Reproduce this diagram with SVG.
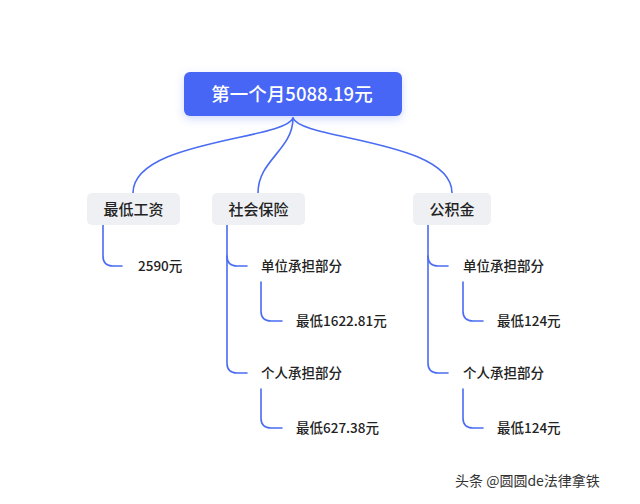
<svg xmlns="http://www.w3.org/2000/svg" width="640" height="504" viewBox="0 0 640 504">
<defs>
<filter id="sh" x="-20%" y="-30%" width="140%" height="170%"><feDropShadow dx="0" dy="3" stdDeviation="4" flood-color="#4766f5" flood-opacity="0.25"/></filter>
</defs>
<style>
text{font-family:"Noto Sans CJK SC","Liberation Sans",sans-serif;}
.ln{fill:none;stroke:#4a6cf2;stroke-width:1.6;stroke-linecap:round}
.l1 rect{fill:#eef0f3}
.l1 text{font-size:15px;fill:#222;text-anchor:middle;font-weight:500}
.l2{font-size:13.5px;fill:#222;font-weight:500}
</style>
<rect width="640" height="504" fill="#ffffff"/>
<g id="connectors">
<path class="ln" d="M293,118 C285,140 133,140 133,193"/>
<path class="ln" d="M293,118 C293,150 258,160 258,193"/>
<path class="ln" d="M293,118 C301,140 452,140 452,193"/>
<path class="ln" d="M103,225 V256 Q103,266 113,266 H122"/>
<path class="ln" d="M227,225 V256 Q227,266 237,266 H247"/>
<path class="ln" d="M227,256 V363 Q227,373 237,373 H247"/>
<path class="ln" d="M261,282 V311 Q261,321 271,321 H282"/>
<path class="ln" d="M261,389 V418 Q261,428 271,428 H282"/>
<path class="ln" d="M428,225 V256 Q428,266 438,266 H448"/>
<path class="ln" d="M428,256 V363 Q428,373 438,373 H448"/>
<path class="ln" d="M463,282 V311 Q463,321 473,321 H483"/>
<path class="ln" d="M463,389 V418 Q463,428 473,428 H483"/>
</g>
<g id="root">
<rect x="184" y="72" width="218" height="44" rx="6" fill="#4766f5" filter="url(#sh)"/>
<text x="292" y="101" font-size="18.5" font-weight="500" fill="#ffffff" text-anchor="middle">第一个月5088.19元</text>
</g>
<g id="n-wage" class="l1"><rect x="87" y="193" width="93" height="32" rx="5"/><text x="133.5" y="214.5">最低工资</text></g>
<g id="n-social" class="l1"><rect x="212" y="193" width="93" height="32" rx="5"/><text x="258.5" y="214.5">社会保险</text></g>
<g id="n-fund" class="l1"><rect x="413" y="193" width="78" height="32" rx="5"/><text x="452" y="214.5">公积金</text></g>
<g id="n-2590"><text class="l2" x="138" y="271">2590元</text></g>
<g id="n-s-unit"><text class="l2" x="261" y="271">单位承担部分</text></g>
<g id="n-s-unit-v"><text class="l2" x="296" y="326">最低1622.81元</text></g>
<g id="n-s-pers"><text class="l2" x="261" y="378">个人承担部分</text></g>
<g id="n-s-pers-v"><text class="l2" x="296" y="433">最低627.38元</text></g>
<g id="n-f-unit"><text class="l2" x="463" y="271">单位承担部分</text></g>
<g id="n-f-unit-v"><text class="l2" x="497" y="326">最低124元</text></g>
<g id="n-f-pers"><text class="l2" x="463" y="378">个人承担部分</text></g>
<g id="n-f-pers-v"><text class="l2" x="497" y="433">最低124元</text></g>
<text x="455" y="486" font-size="14" fill="#333">头条 @圆圆de法律拿铁</text>
</svg>
